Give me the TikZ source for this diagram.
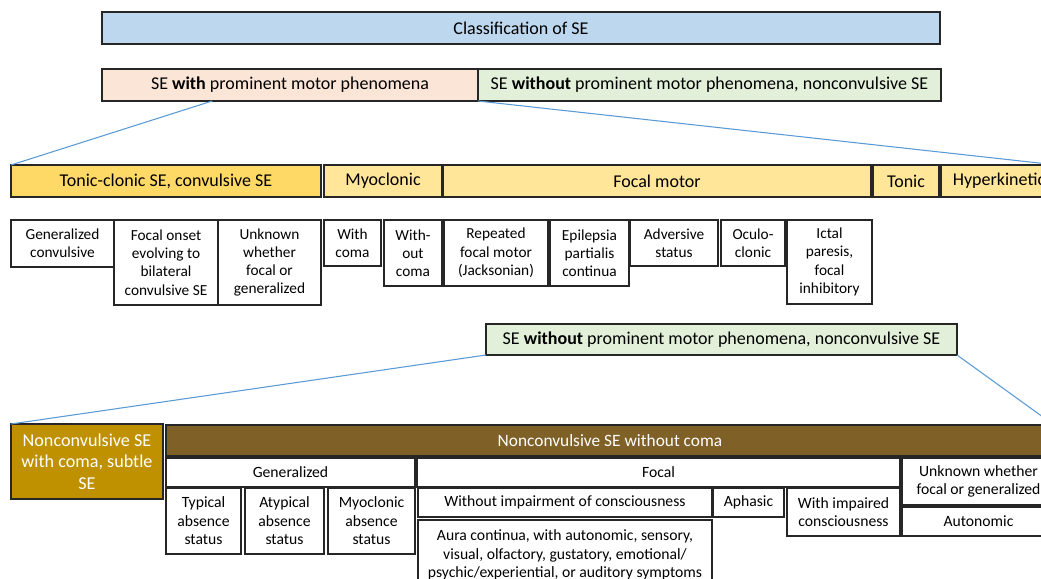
\documentclass[tikz,border=0pt]{standalone}
\usepackage{fontspec}
\setmainfont{Carlito}
\usetikzlibrary{calc}
\definecolor{cblue}{HTML}{BDD7EE}
\definecolor{cpeach}{HTML}{FBE5D6}
\definecolor{cgreen}{HTML}{E2F0D9}
\definecolor{cgold}{HTML}{FFD966}
\definecolor{cyel}{HTML}{FFE699}
\definecolor{cdgold}{HTML}{BF9000}
\definecolor{cbrown}{HTML}{7F6128}
\definecolor{cline}{HTML}{5B9BD5}
\tikzset{
  box/.style={draw=black!85, line width=1.05pt, inner sep=0pt, outer sep=0pt, align=center},
  big/.style={font=\fontsize{13.5}{16}\selectfont},
  small/.style={font=\fontsize{11.5}{13.7}\selectfont},
  lsmall/.style={font=\fontsize{11.75}{13.9}\selectfont},
  mid/.style={font=\fontsize{13}{16}\selectfont, text=white},
  conn/.style={draw=cline, line width=0.8pt}
}
\newcommand\bx[7]{\node[box,#6,minimum width={(#4-#2)*0.75pt},minimum height={(#5-#3)*0.75pt},anchor=north west] (#1) at (#2,#3) {#7};}
\begin{document}
\begin{tikzpicture}[x=0.75pt,y=-0.75pt]
\clip (0,0) rectangle (1041,578);
\fill[white] (0,0) rectangle (1041,578);
% top
\bx{title}{102}{12}{940}{44}{big,fill=cblue}{Classification of SE}
\bx{withb}{102}{69}{478}{101}{big,fill=cpeach}{SE \textbf{with} prominent motor phenomena}
\bx{withoutb}{478}{69}{941}{101}{big,fill=cgreen}{SE \textbf{without} prominent motor phenomena, nonconvulsive SE}
% row 2
\bx{tc}{11}{165}{321}{197}{big,fill=cgold}{Tonic-clonic SE, convulsive SE}
\bx{myo}{324}{165}{442}{197}{big,fill=cyel}{Myoclonic}
\bx{fm}{443}{165}{871}{197}{big,fill=cyel}{Focal motor}
\bx{tonic}{873}{165}{939}{197}{big,fill=cyel}{Tonic}
\bx{hyper}{941}{165}{1057}{197}{big,fill=cyel}{Hyperkinetic}
% row 3
\bx{gc}{11}{220}{114}{267}{small,fill=white}{Generalized\\convulsive}
\bx{fo}{114}{220}{218}{305}{small,fill=white}{Focal onset\\evolving to\\bilateral\\convulsive SE}
\bx{uw}{218}{220}{321}{305}{small,fill=white}{Unknown\\whether\\focal or\\generalized}
\bx{wc}{324}{220}{381}{266}{small,fill=white}{With\\coma}
\bx{woc}{384}{220}{442}{286}{small,fill=white}{With-\\out\\coma}
\bx{rep}{444}{220}{548}{286}{small,fill=white}{Repeated\\focal motor\\(Jacksonian)}
\bx{epc}{550}{220}{629}{286}{small,fill=white}{Epilepsia\\partialis\\continua}
\bx{adv}{630}{220}{718}{266}{small,fill=white}{Adversive\\status}
\bx{oc}{721}{220}{785}{266}{small,fill=white}{Oculo-\\clonic}
\bx{ip}{787}{220}{872}{304}{small,fill=white}{Ictal\\paresis,\\focal\\inhibitory}
% second SE without
\bx{sb}{486}{324}{957}{355}{big,fill=cgreen}{SE \textbf{without} prominent motor phenomena, nonconvulsive SE}
% lower
\bx{nca}{11}{424}{163}{499}{font=\fontsize{13.6}{16.2}\selectfont,text=white,fill=cdgold}{Nonconvulsive SE\\with coma, subtle\\SE}
\bx{ncb}{166}{425}{1054}{456}{mid,fill=cbrown}{Nonconvulsive SE without coma}
\bx{gen}{166}{458}{415}{487}{lsmall,fill=white}{Generalized}
\bx{tas}{166}{488}{241}{554}{lsmall,fill=white}{Typical\\absence\\status}
\bx{aas}{245}{488}{324}{554}{lsmall,fill=white}{Atypical\\absence\\status}
\bx{mas}{328}{488}{415}{554}{lsmall,fill=white}{Myoclonic\\absence\\status}
\bx{foc}{417}{458}{900}{487}{lsmall,fill=white}{Focal}
\bx{wic}{418}{488}{712}{517}{lsmall,fill=white}{Without impairment of consciousness}
\bx{aph}{713}{488}{784}{517}{lsmall,fill=white}{Aphasic}
\bx{wimp}{787}{488}{900}{536}{lsmall,fill=white}{With impaired\\consciousness}
\bx{aura}{418}{520}{712}{590}{lsmall,fill=white}{Aura continua, with autonomic, sensory,\\visual, olfactory, gustatory, emotional/\\psychic/experiential, or auditory symptoms}
\bx{unk}{902}{458}{1055}{505}{lsmall,fill=white}{Unknown whether\\focal or generalized}
\bx{aut}{902}{507}{1055}{536}{lsmall,fill=white}{Autonomic}
% connectors
\coordinate (ws) at ($(withb.south west)!0.293!(withb.south east)$);
\draw[conn] (ws) -- (tc.north west);
\draw[conn] (withb.south east) -- (hyper.north east);
\draw[conn] (sb.south west) -- (nca.north west);
\draw[conn] (sb.south east) -- (ncb.north east);
\end{tikzpicture}
\end{document}
